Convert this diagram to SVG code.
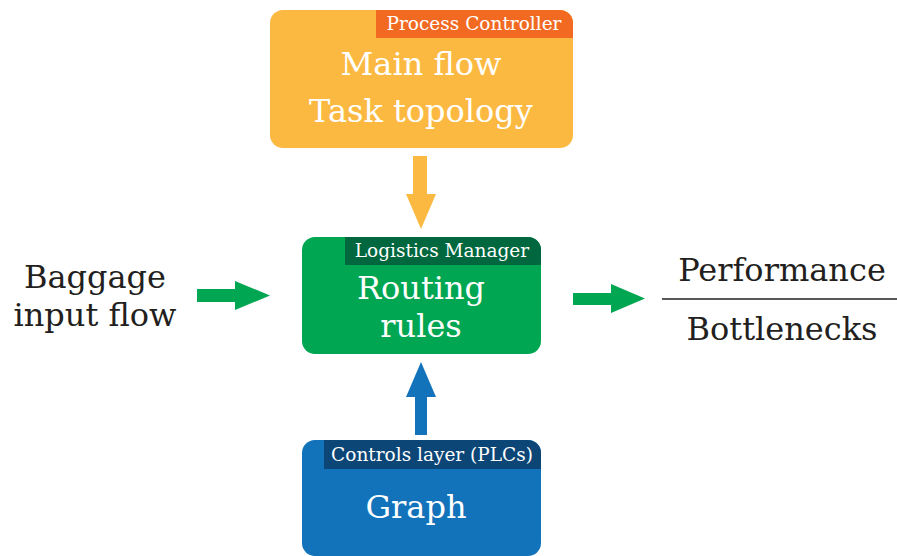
<svg xmlns="http://www.w3.org/2000/svg" width="897" height="556" viewBox="0 0 897 556">
  <style>
    text { font-family: "DejaVu Serif", serif; text-anchor: middle; }
    .big { font-size: 32px; fill: #ffffff; }
    .hdr { font-size: 18.5px; fill: #ffffff; }
    .side { font-size: 32px; fill: #231f20; }
  </style>
  <defs>
    <clipPath id="clipTop"><rect x="270" y="10" width="303" height="138" rx="13"/></clipPath>
    <clipPath id="clipMid"><rect x="302" y="237" width="239" height="117" rx="13"/></clipPath>
    <clipPath id="clipBot"><rect x="302" y="440" width="239" height="116" rx="13"/></clipPath>
  </defs>

  <rect width="897" height="556" fill="#ffffff"/>

  <!-- Process Controller -->
  <g id="process-controller">
    <rect x="270" y="10" width="303" height="138" rx="13" fill="#fbb941"/>
    <rect x="376" y="10" width="197" height="28" fill="#f26a22" clip-path="url(#clipTop)"/>
    <text class="hdr" x="474" y="30">Process Controller</text>
    <text class="big" x="421" y="75">Main flow</text>
    <text class="big" x="421" y="122">Task topology</text>
  </g>

  <!-- Logistics Manager -->
  <g id="logistics-manager">
    <rect x="302" y="237" width="239" height="117" rx="13" fill="#00a651"/>
    <rect x="345" y="237" width="196" height="28" fill="#00673e" clip-path="url(#clipMid)"/>
    <text class="hdr" x="442" y="257">Logistics Manager</text>
    <text class="big" x="421" y="299">Routing</text>
    <text class="big" x="421" y="337">rules</text>
  </g>

  <!-- Controls layer -->
  <g id="controls-layer">
    <rect x="302" y="440" width="239" height="116" rx="13" fill="#1273ba"/>
    <rect x="324" y="440" width="217" height="29" fill="#0c4676" clip-path="url(#clipBot)"/>
    <text class="hdr" x="432" y="461">Controls layer (PLCs)</text>
    <text class="big" x="416" y="518">Graph</text>
  </g>

  <!-- Input label -->
  <g id="baggage-input">
    <text class="side" x="95" y="288">Baggage</text>
    <text class="side" x="95" y="326">input flow</text>
  </g>

  <!-- Output label -->
  <g id="output">
    <text class="side" x="782" y="281">Performance</text>
    <line x1="662" y1="299" x2="897" y2="299" stroke="#231f20" stroke-width="1.5"/>
    <text class="side" x="782" y="340">Bottlenecks</text>
  </g>

  <!-- Connectors -->
  <g id="connectors">
    <polygon fill="#fbb941" points="413,156 427,156 427,194 436,194 421,229 406,194 413,194"/>
    <polygon fill="#1273ba" points="415,435 427,435 427,397 436,397 421,362 406,397 415,397"/>
    <polygon fill="#00a651" points="197,289 235,289 235,281 270,295.5 235,310 235,302 197,302"/>
    <polygon fill="#00a651" points="573,293 611,293 611,284 645,298.5 611,313 611,305 573,305"/>
  </g>
</svg>
